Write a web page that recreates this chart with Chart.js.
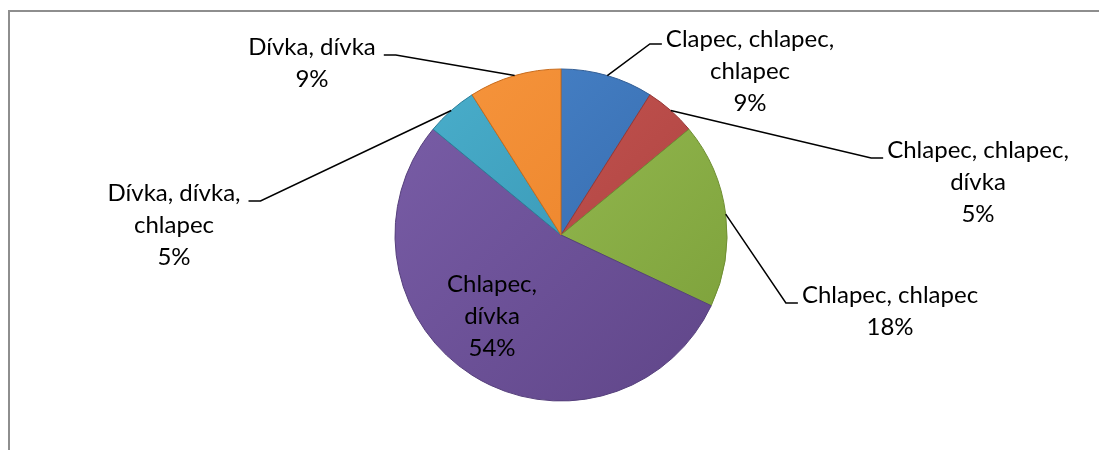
<!DOCTYPE html>
<html>
<head>
<meta charset="utf-8">
<script src="https://cdn.jsdelivr.net/npm/chart.js@4.4.0/dist/chart.umd.min.js"></script>
<style>
  html, body { margin: 0; padding: 0; background: #fff; }
  #wrap { position: relative; width: 1099px; height: 450px; }
</style>
</head>
<body>
<div id="wrap"><canvas id="pieChart"></canvas></div>
<script>
// pie data
var categories = ['Clapec, chlapec, chlapec', 'Chlapec, chlapec, dívka', 'Chlapec, chlapec',
                  'Chlapec, dívka', 'Dívka, dívka, chlapec', 'Dívka, dívka'];
var shares = [9, 5, 18, 54, 5, 9];
var labelLines = [['Clapec, chlapec,', 'chlapec'], ['Chlapec, chlapec,', 'dívka'], ['Chlapec, chlapec'],
                  ['Chlapec,', 'dívka'], ['Dívka, dívka,', 'chlapec'], ['Dívka, dívka']];

// light / dark shade for each slice
var lightColors = ['#4a86cc', '#cc5855', '#9dc258', '#7a5ea8', '#4bb0cd', '#f7963e'];
var darkColors  = ['#2f62a3', '#a43e3b', '#7a9e38', '#5f4588', '#2f8aa8', '#e67c22'];
var edgeColors  = ['#345f96', '#963836', '#6f8f33', '#56407c', '#2c7f9a', '#c96c1c'];

// label placement: centre x, baseline of first line, leader y and side
var labelPos = [
  { x: 750, y: 47,  lead: 44,  side: 'left' },
  { x: 978, y: 158, lead: 158, side: 'left' },
  { x: 890, y: 303, lead: 303, side: 'left' },
  { x: 492, y: 292, lead: 0,   side: null },
  { x: 174, y: 201, lead: 201, side: 'right' },
  { x: 312, y: 55,  lead: 55,  side: 'right' }
];
var lineGap = 32;
var labelFont = '24px Lato, "Open Sans", sans-serif';

function sliceFill(ctx) {
  var chart = ctx.chart;
  var area = chart.chartArea;
  var i = ctx.dataIndex;
  if (!area || i === undefined) return lightColors[i || 0];
  var g = chart.ctx.createLinearGradient(area.left, area.top, area.right, area.bottom);
  g.addColorStop(0, lightColors[i]);
  g.addColorStop(1, darkColors[i]);
  return g;
}

var frame = {
  id: 'frame',
  beforeDraw: function(chart) {
    var c = chart.ctx;
    c.save();
    c.fillStyle = '#ffffff';
    c.fillRect(0, 0, chart.width, chart.height);
    c.strokeStyle = '#8e8e8e';
    c.lineWidth = 2;
    c.beginPath();
    c.moveTo(9, chart.height);
    c.lineTo(9, 11);
    c.lineTo(chart.width, 11);
    c.stroke();
    c.restore();
  }
};

var pieLabels = {
  id: 'pieLabels',
  afterDatasetsDraw: function(chart) {
    var c = chart.ctx;
    var arcs = chart.getDatasetMeta(0).data;
    c.save();
    c.font = labelFont;
    c.fillStyle = '#000';
    c.textAlign = 'center';
    c.textBaseline = 'alphabetic';
    arcs.forEach(function(arc, i) {
      var p = labelPos[i];
      var lines = labelLines[i].concat([shares[i] + '%']);
      lines.forEach(function(t, k) {
        c.fillText(t, p.x, p.y + k * lineGap);
      });
      if (!p.side) return;
      var mid = (arc.startAngle + arc.endAngle) / 2;
      var sx = arc.x + Math.cos(mid) * arc.outerRadius;
      var sy = arc.y + Math.sin(mid) * arc.outerRadius;
      var w = c.measureText(lines[0]).width;
      var ex, bx;
      if (p.side === 'left') {
        ex = p.x - w / 2 - 4;
        bx = ex - 12;
      } else {
        ex = p.x + w / 2 + 8;
        bx = ex + 12;
      }
      c.strokeStyle = '#000';
      c.lineWidth = 1.5;
      c.beginPath();
      c.moveTo(sx, sy);
      c.lineTo(bx, p.lead);
      c.lineTo(ex, p.lead);
      c.stroke();
    });
    c.restore();
  }
};

new Chart(document.getElementById('pieChart'), {
  type: 'pie',
  data: {
    labels: categories,
    datasets: [{
      data: shares,
      backgroundColor: sliceFill,
      borderColor: edgeColors,
      borderWidth: 1
    }]
  },
  options: {
    responsive: true,
    maintainAspectRatio: false,
    animation: false,
    radius: 166,
    layout: { padding: { left: 395, right: 372, top: 69, bottom: 49 } },
    plugins: {
      legend: { display: false },
      tooltip: { enabled: false }
    }
  },
  plugins: [frame, pieLabels]
});
</script>
</body>
</html>
